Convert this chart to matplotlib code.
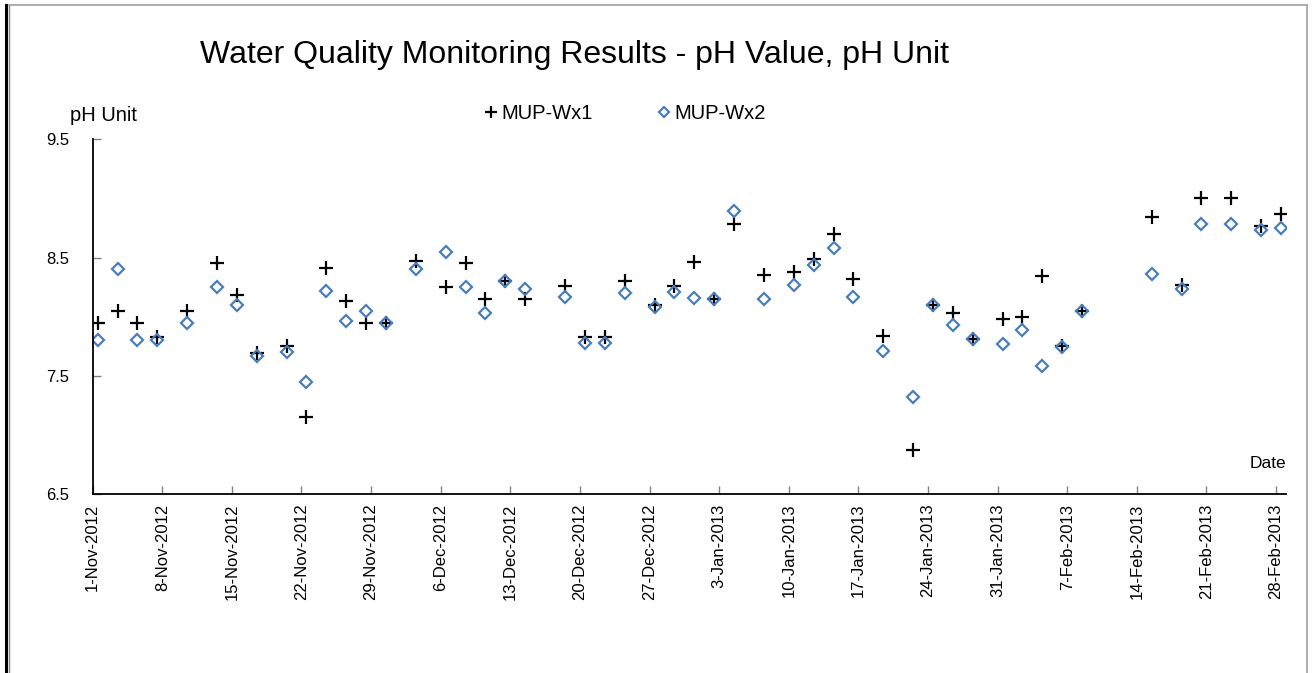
import matplotlib
matplotlib.use("Agg")
import matplotlib.pyplot as plt
import matplotlib.dates as mdates
from matplotlib.lines import Line2D
import pandas as pd

plt.rcParams['font.family'] = ['Liberation Sans', 'DejaVu Sans']

sample_dates = [
    "2012-11-01", "2012-11-03", "2012-11-05", "2012-11-07", "2012-11-10",
    "2012-11-13", "2012-11-15", "2012-11-17", "2012-11-20", "2012-11-22",
    "2012-11-24", "2012-11-26", "2012-11-28", "2012-11-30", "2012-12-03",
    "2012-12-06", "2012-12-08", "2012-12-10", "2012-12-12", "2012-12-14",
    "2012-12-18", "2012-12-20", "2012-12-22", "2012-12-24", "2012-12-27",
    "2012-12-29", "2012-12-31", "2013-01-02", "2013-01-04", "2013-01-07",
    "2013-01-10", "2013-01-12", "2013-01-14", "2013-01-16", "2013-01-19",
    "2013-01-22", "2013-01-24", "2013-01-26", "2013-01-28", "2013-01-31",
    "2013-02-02", "2013-02-04", "2013-02-06", "2013-02-08", "2013-02-15",
    "2013-02-18", "2013-02-20", "2013-02-23", "2013-02-26", "2013-02-28",
]
wx1 = [
    7.95, 8.05, 7.95, 7.83, 8.05, 8.45, 8.18, 7.69, 7.75, 7.15,
    8.41, 8.13, 7.95, 7.95, 8.47, 8.25, 8.45, 8.15, 8.30, 8.15,
    8.26, 7.83, 7.83, 8.30, 8.10, 8.26, 8.46, 8.15, 8.78, 8.35,
    8.38, 8.49, 8.70, 8.32, 7.84, 6.87, 8.10, 8.03, 7.81, 7.98,
    8.00, 8.34, 7.75, 8.05, 8.84, 8.27, 9.00, 9.00, 8.77, 8.87,
]
wx2 = [
    7.80, 8.40, 7.80, 7.80, 7.95, 8.25, 8.10, 7.67, 7.70, 7.45,
    8.22, 7.96, 8.05, 7.95, 8.40, 8.55, 8.25, 8.03, 8.30, 8.23,
    8.17, 7.78, 7.78, 8.20, 8.08, 8.21, 8.16, 8.15, 8.89, 8.15,
    8.27, 8.44, 8.58, 8.17, 7.71, 7.32, 8.10, 7.93, 7.81, 7.77,
    7.89, 7.58, 7.74, 8.05, 8.36, 8.23, 8.78, 8.78, 8.73, 8.75,
]
tick_dates = pd.date_range("2012-11-01", "2013-02-28", freq="7D")

# Excel date axis: each day sits in the middle of its slot
x = pd.to_datetime(sample_dates) + pd.Timedelta(hours=12)

fig = plt.figure(figsize=(13.16, 6.73), dpi=100)
ax = fig.add_axes([0.0704, 0.266, 0.9068, 0.527])

blue = '#4a7ebb'
ax.plot(x, wx1, linestyle='none', marker='+', markersize=10, markeredgewidth=1.6,
        color='black', label='MUP-Wx1')
ax.plot(x, wx2, linestyle='none', marker='D', markersize=6.6, markeredgewidth=1.6,
        markerfacecolor='none', markeredgecolor=blue, label='MUP-Wx2')

ax.set_xlim(pd.Timestamp("2012-11-01"), pd.Timestamp("2013-03-01"))
ax.set_ylim(6.5, 9.5)
ax.set_yticks([6.5, 7.5, 8.5, 9.5])
ax.set_xticks(tick_dates)
ax.xaxis.set_major_formatter(
    plt.FuncFormatter(lambda v, p: (lambda d: f"{d.day}-{d.strftime('%b-%Y')}")(mdates.num2date(v))))
plt.setp(ax.get_xticklabels(), rotation=90)

for s in ['top', 'right']:
    ax.spines[s].set_visible(False)
for s in ['left', 'bottom']:
    ax.spines[s].set_linewidth(1.3)
ax.tick_params(axis='both', direction='in', length=6, width=1, color='#808080',
               labelsize=12, pad=7)
ax.tick_params(axis='y', pad=17)

fig.text(0.152, 0.918, 'Water Quality Monitoring Results - pH Value, pH Unit',
         fontsize=23, va='center', ha='left')
fig.text(0.053, 0.829, 'pH Unit', fontsize=14.5, va='center', ha='left')
ax.text(1.0, 0.087, 'Date', transform=ax.transAxes, fontsize=12.5, ha='right', va='center')

lgd = ax.legend(loc='center', bbox_to_anchor=(0.447, 1.072), ncol=2, frameon=False,
                fontsize=14.5, handlelength=0.5, handletextpad=0.25, columnspacing=3.3,
                markerscale=0.8)

# outer frame of the chart
fig.add_artist(Line2D([0.0049, 0.0049], [0, 0.992], color='black', linewidth=2.2))
fig.add_artist(Line2D([0.0072, 0.0072], [0, 0.992], color='#808080', linewidth=1))
fig.add_artist(Line2D([0.0072, 0.9928], [0.992, 0.992], color='#a0a0a0', linewidth=1.2))
fig.add_artist(Line2D([0.9928, 0.9928], [0, 0.992], color='#a0a0a0', linewidth=1.2))

plt.savefig('out.png', dpi=100)
